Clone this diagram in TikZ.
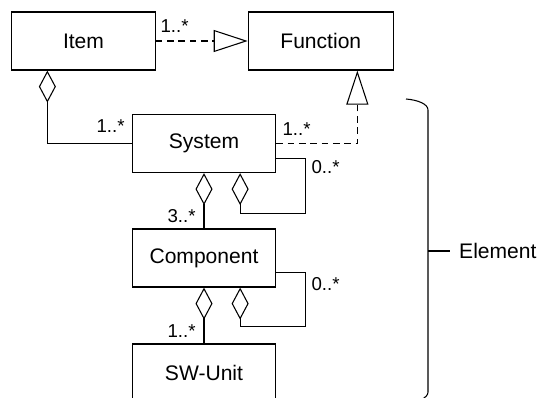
\documentclass[tikz,border=0pt]{standalone}
\usepackage{fontspec}
\setmainfont{Liberation Sans}
\usetikzlibrary{positioning,arrows.meta,calc}

\begin{document}
\begin{tikzpicture}[
      x=0.75pt,y=-0.75pt,
      line width=0.8pt,
      every node/.style={font=\fontsize{15.8}{18}\selectfont},
      cls/.style={draw,line width=0.9pt,minimum width=107.5pt,minimum height=43.5pt,inner sep=0pt},
      mult/.style={font=\fontsize{14}{16}\selectfont,anchor=base west,inner sep=0pt},
      agg/.style={{Diamond[open,length=24pt,width=12.75pt]}-},
      gen/.style={dashed,dash pattern=on 5pt off 3.5pt,-{Triangle[open,length=25.5pt,width=16.5pt]}}
    ]
    \useasboundingbox (0,0) rectangle (538,397);
    % classes
    \node[cls] (item) at (83.5,41) {Item};
    \node[cls,minimum width=108.75pt] (function) at (320.8,41) {Function};
    \node[cls] (system) at (204,143.5) {System};
    \node[cls] (component) at (204,258) {Component};
    \node[cls] (swunit) at (204,373) {SW-Unit};
    % realisation arcs
    \draw[gen] (item) -- (function);
    \draw[gen] (system.east) -| ($(function.south west)!0.75!(function.south east)$);
    % aggregations
    \draw[agg] ($(item.south west)!0.25!(item.south east)$) |- (system.west);
    \draw[agg] (system.south) -- (component.north);
    \draw[agg] (component.south) -- (swunit.north);
    % self loops
    \draw[agg] ($(system.south west)!0.75!(system.south east)$) -- ++(0,40) -- ++(65,0)
      |- ($(system.north east)!0.75!(system.south east)$);
    \draw[agg] ($(component.south west)!0.75!(component.south east)$) -- ++(0,39) -- ++(65,0)
      |- ($(component.north east)!0.75!(component.south east)$);
    % multiplicities
    \node[mult] (m1) at (160,32.5) {1..*};
    \node[mult] (m2) at (96,132) {1..*};
    \node[mult] (m3) at (282,135.5) {1..*};
    \node[mult] (m4) at (311,173.5) {0..*};
    \node[mult] (m5) at (167,222.5) {3..*};
    \node[mult] (m6) at (311,290) {0..*};
    \node[mult] (m7) at (167,337) {1..*};
    % brace
    \draw (406,99) .. controls (418,100) and (428,104) .. (428,110) -- (428,392)
      .. controls (428,398) and (418,402) .. (406,403);
    \coordinate (tip) at (428,251);
    \node[anchor=west,inner xsep=6.5pt,inner ysep=0pt] (element) at (450,251) {Element};
    \draw (tip) -- (element.west);
  \end{tikzpicture}
\end{document}
